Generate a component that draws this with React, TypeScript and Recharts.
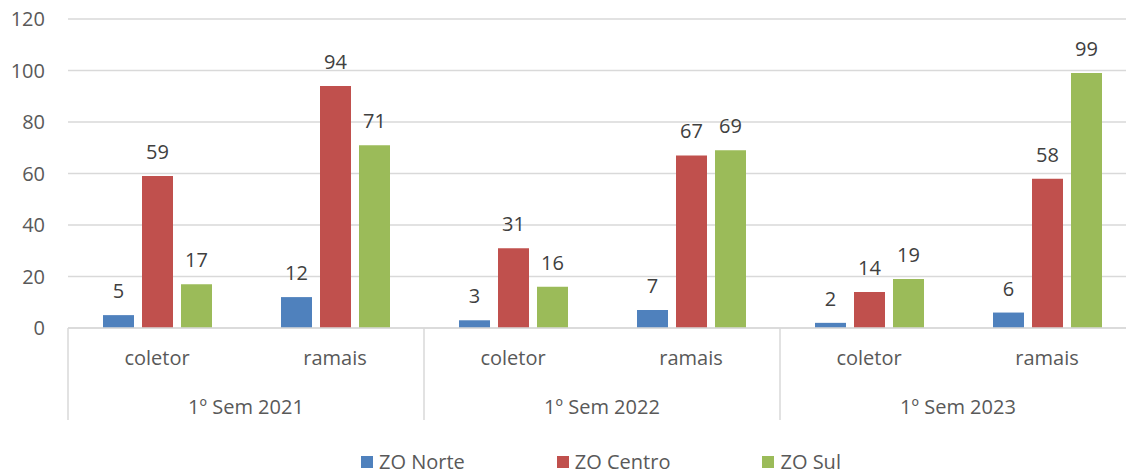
import { BarChart, Bar, XAxis, YAxis, CartesianGrid, LabelList, Legend } from 'recharts';

const semesters = ['1º Sem 2021', '1º Sem 2022', '1º Sem 2023'];
const subCategories = ['coletor', 'ramais'];
const zoNorte = [5, 12, 3, 7, 2, 6];
const zoCentro = [59, 94, 31, 67, 14, 58];
const zoSul = [17, 71, 16, 69, 19, 99];
const yTicks = [0, 20, 40, 60, 80, 100, 120];

const series = [
  { key: 'norte', name: 'ZO Norte', color: '#4F81BD', values: zoNorte },
  { key: 'centro', name: 'ZO Centro', color: '#C0504D', values: zoCentro },
  { key: 'sul', name: 'ZO Sul', color: '#9BBB59', values: zoSul },
];

const data = semesters.flatMap((sem, i) =>
  subCategories.map((sub, j) => {
    const idx = i * subCategories.length + j;
    const row: Record<string, string | number> = { sem, sub };
    series.forEach((s) => (row[s.key] = s.values[idx]));
    return row;
  })
);

const FONT = '"Open Sans", sans-serif';
const FS = 20;
const TEXT = '#595959';
const GRID = '#D9D9D9';
const CHART_W = 1136;
const PLOT_LEFT = 68;
const PLOT_TOP = 19;
const PLOT_BOTTOM = 328;
const CAT_W = (CHART_W - PLOT_LEFT) / data.length;

function TwoLevelTick(props: any) {
  const { x, payload, index } = props;
  const top = PLOT_BOTTOM;
  const row = data[index];
  const isFirst = index % subCategories.length === 0;
  const isLast = index === data.length - 1;
  return (
    <g>
      <text x={x} y={top + 37} textAnchor="middle" fill={TEXT} fontSize={FS} fontFamily={FONT}>
        {payload.value}
      </text>
      {isFirst && (
        <>
          <line x1={x - CAT_W / 2} x2={x - CAT_W / 2} y1={top} y2={top + 92} stroke={GRID} strokeWidth={1.5} />
          <text x={x + CAT_W / 2} y={top + 86} textAnchor="middle" fill={TEXT} fontSize={FS} fontFamily={FONT}>
            {row.sem}
          </text>
        </>
      )}
      {isLast && (
        <line x1={x + CAT_W / 2} x2={x + CAT_W / 2} y1={top} y2={top + 92} stroke={GRID} strokeWidth={1.5} />
      )}
    </g>
  );
}

function LegendContent() {
  return (
    <div style={{ display: 'flex', paddingLeft: 361, fontFamily: FONT, fontSize: FS, color: TEXT, height: 47, alignItems: 'flex-end' }}>
      {series.map((s) => (
        <div key={s.key} style={{ display: 'flex', alignItems: 'center', marginRight: 92 }}>
          <span style={{ width: 12, height: 12, background: s.color, marginRight: 6, display: 'inline-block' }} />
          <span>{s.name}</span>
        </div>
      ))}
    </div>
  );
}

export default function App() {
  return (
    <div style={{ position: 'fixed', left: 0, top: 0, width: 1126, height: 475, overflow: 'hidden', background: '#fff' }}>
      <BarChart
        width={CHART_W}
        height={475}
        data={data}
        margin={{ top: PLOT_TOP, right: 0, bottom: 0, left: 0 }}
        barGap={8}
        barCategoryGap={35}
      >
        <CartesianGrid vertical={false} stroke={GRID} strokeWidth={1.5} />
        <YAxis
          width={PLOT_LEFT}
          domain={[0, 120]}
          ticks={yTicks}
          axisLine={false}
          tickLine={false}
          tickSize={0}
          tickMargin={23}
          tick={{ fill: TEXT, fontSize: FS, fontFamily: FONT }}
        />
        <XAxis
          dataKey="sub"
          height={100}
          interval={0}
          tickLine={false}
          axisLine={{ stroke: GRID, strokeWidth: 1.5 }}
          tick={<TwoLevelTick />}
        />
        <Legend verticalAlign="bottom" height={47} content={<LegendContent />} />
        {series.map((s) => (
          <Bar key={s.key} dataKey={s.key} name={s.name} fill={s.color} isAnimationActive={false}>
            <LabelList dataKey={s.key} position="top" offset={17} fill="#404040" fontSize={FS} fontFamily={FONT} />
          </Bar>
        ))}
      </BarChart>
    </div>
  );
}
